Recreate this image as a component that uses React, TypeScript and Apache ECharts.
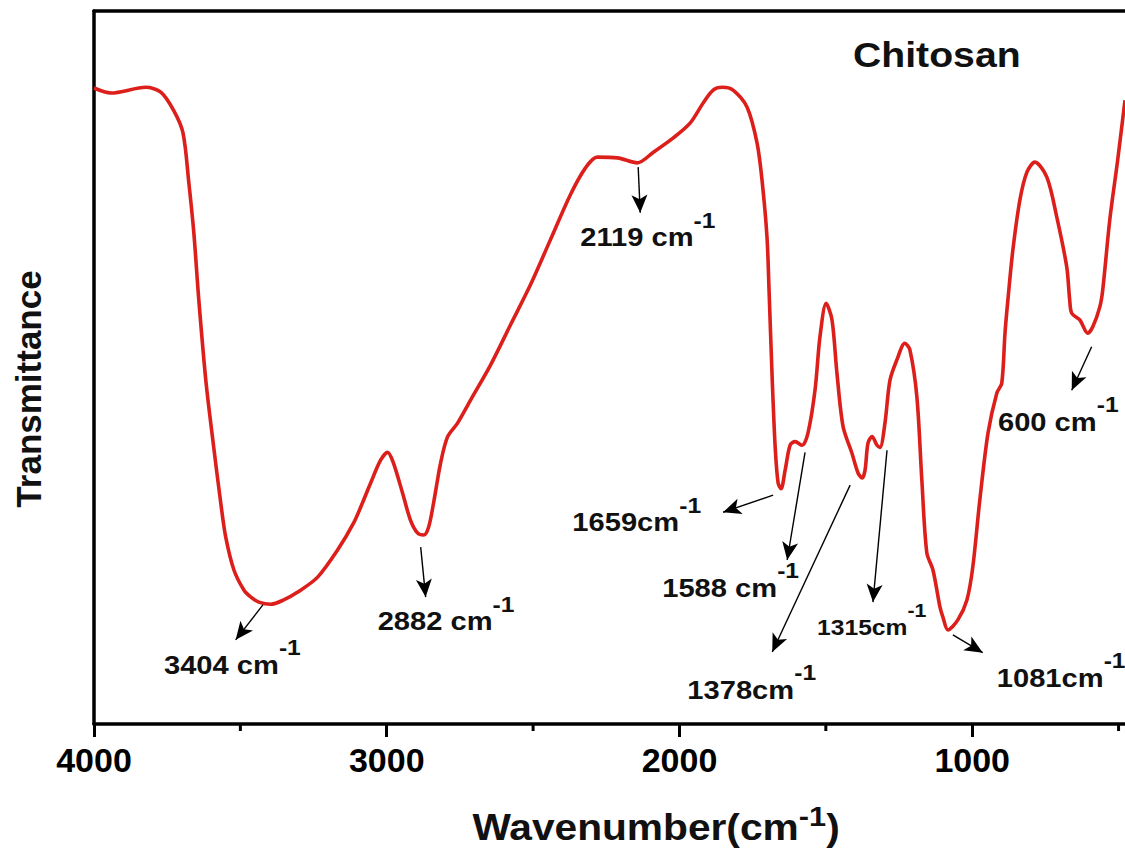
import React, { useEffect, useRef } from "react";
import * as echarts from "echarts";

// ---- data ----
const wavenumber = [
  4000, 3942, 3823, 3771, 3727, 3696, 3676, 3659, 3642, 3618, 3594, 3567, 3550, 3522, 3488, 3464, 3437, 3396, 3352, 3304,
  3236, 3168, 3113, 3082, 3055, 3021, 2997, 2977, 2946, 2919, 2895, 2874, 2857, 2840, 2816, 2792, 2758, 2714, 2646, 2577,
  2509, 2441, 2373, 2321, 2281, 2212, 2144, 2089, 2021, 1963, 1919, 1885, 1854, 1817, 1769, 1735, 1718, 1701, 1694, 1683,
  1673, 1663, 1653, 1639, 1622, 1605, 1581, 1561, 1537, 1520, 1499, 1479, 1462, 1441, 1411, 1390, 1376, 1366, 1356, 1342,
  1325, 1315, 1298, 1281, 1257, 1230, 1213, 1189, 1172, 1155, 1134, 1110, 1100, 1083, 1049, 1018, 998, 974, 946, 916,
  899, 888, 878, 861, 837, 813, 786, 745, 711, 677, 667, 660, 633, 605, 588, 564, 554, 530, 503, 478,
];
const transmittance = [
  89.2, 88.5, 89.3, 88.6, 86.0, 82.9, 75.9, 68.9, 59.5, 48.2, 39.8, 31.0, 26.2, 21.6, 18.8, 17.8, 17.1, 16.8, 17.4, 18.5,
  20.6, 24.4, 28.2, 31.1, 33.8, 37.0, 38.1, 36.6, 32.4, 28.6, 26.8, 26.5, 27.6, 31.0, 36.6, 40.3, 42.2, 45.4, 50.3, 56.0,
  61.6, 67.9, 74.2, 78.0, 79.5, 79.4, 78.7, 80.2, 82.2, 84.3, 87.1, 88.9, 89.3, 88.9, 86.5, 81.5, 76.3, 68.3, 60.9, 48.2,
  38.8, 33.8, 33.0, 35.6, 39.1, 39.6, 39.1, 40.8, 46.8, 54.3, 59.0, 56.7, 49.2, 41.7, 38.0, 35.2, 34.5, 35.6, 39.4, 40.3,
  39.1, 38.8, 42.2, 48.2, 51.1, 53.4, 52.5, 45.9, 34.2, 24.0, 21.6, 16.4, 15.0, 13.2, 14.6, 17.4, 22.0, 31.4, 40.8, 46.4,
  47.8, 54.8, 59.5, 66.5, 73.5, 77.4, 78.8, 76.7, 71.1, 64.1, 59.5, 57.6, 56.7, 54.8, 55.7, 58.5, 60.9, 70.7, 79.1, 87.5,
];
const majorTicks = [4000, 3000, 2000, 1000];
const minorTicks = [3500, 2500, 1500, 500];
const X_MIN = 478;
const X_MAX = 4000;

const peakLabels = ["3404 cm", "2882 cm", "2119 cm", "1659cm", "1588 cm", "1378cm", "1315cm", "1081cm", "600 cm"];
const arrowFrom = [
  [3423, 16.7], [2884, 24.8], [2141, 78.1], [1680, 32.1], [1571, 38.1], [1417, 33.5], [1291, 38.4], [1066, 12.5], [592, 52.9],
];
const arrowTo = [
  [3516, 11.8], [2867, 17.8], [2134, 71.7], [1851, 29.7], [1632, 23.0], [1683, 10.1], [1339, 17.1], [964, 10.0], [660, 46.8],
];
const labelAnchor = [
  [3761, 8.3], [3031, 14.4], [2339, 68.3], [2366, 28.3], [2059, 19.1], [1973, 4.8], [1530, 13.6], [916, 6.5], [912, 42.4],
];
const smallLabelIndex = 6;

const F = "'Liberation Sans', Arial, Helvetica, sans-serif";
const RED = "#dc1f1b";

export default function App() {
  const ref = useRef<HTMLDivElement>(null);

  useEffect(() => {
    if (!ref.current) return;
    const chart = echarts.init(ref.current, undefined, { renderer: "svg" });

    const axisLineStyle = { color: "#000", width: 3.5 };
    const option: any = {
      animation: false,
      backgroundColor: "#fff",
      grid: { left: 94, right: 0, top: 11, bottom: 128 },
      xAxis: [
        {
          type: "value",
          inverse: true,
          min: X_MIN,
          max: X_MAX,
          position: "bottom",
          axisLine: { show: true, onZero: false, lineStyle: axisLineStyle },
          axisTick: { show: true, inside: false, length: 13, customValues: majorTicks, lineStyle: { color: "#000", width: 3 } },
          axisLabel: {
            show: true,
            customValues: majorTicks,
            formatter: (v: number) => String(v),
            margin: 19,
            fontSize: 34,
            fontWeight: "bold",
            color: "#000",
            fontFamily: F,
          },
          splitLine: { show: false },
        },
        {
          type: "value",
          inverse: true,
          min: X_MIN,
          max: X_MAX,
          position: "top",
          axisLine: { show: true, onZero: false, lineStyle: axisLineStyle },
          axisTick: { show: false },
          axisLabel: { show: false },
          splitLine: { show: false },
        },
      ],
      yAxis: {
        type: "value",
        min: 0,
        max: 100,
        axisLine: { show: true, onZero: false, lineStyle: axisLineStyle },
        axisTick: { show: false },
        axisLabel: { show: false },
        splitLine: { show: false },
      },
      series: [
        {
          type: "line",
          xAxisIndex: 0,
          yAxisIndex: 0,
          data: wavenumber.map((w, i) => [w, transmittance[i]]),
          showSymbol: false,
          smooth: 0.3,
          lineStyle: { color: RED, width: 3.6 },
          itemStyle: { color: RED },
          markLine: {
            silent: true,
            symbol: ["none", "arrow"],
            symbolSize: [12, 18],
            lineStyle: { color: "#000", width: 1.4, type: "solid" },
            label: { show: false },
            emphasis: { disabled: true },
            data: arrowFrom.map((f, i) => [{ coord: f }, { coord: arrowTo[i] }]),
          },
        },
      ],
    };
    chart.setOption(option);

    const tok = (size: number, pad = 0) => ({
      fontSize: size,
      fontWeight: "bold",
      fontFamily: F,
      fill: "#111",
      padding: [0, 0, pad, 0],
    });
    const RICH = {
      a: tok(26),
      s: tok(22, 34),
      b: tok(22),
      t: tok(19, 34),
    };

    const annotations = peakLabels.map((label, i) => {
      const p = chart.convertToPixel({ seriesIndex: 0 }, labelAnchor[i]) as number[];
      const small = i === smallLabelIndex;
      return {
        type: "text",
        x: p[0],
        y: p[1],
        scaleX: 1.12,
        silent: true,
        style: {
          text: `{${small ? "b" : "a"}|${label}}{${small ? "t" : "s"}|-1}`,
          align: "left",
          textAlign: "left",
          verticalAlign: "middle",
          textVerticalAlign: "middle",
          rich: RICH,
        },
      };
    });

    // minor ticks placed through the x axis scale
    const axisY = (chart.convertToPixel({ seriesIndex: 0 }, [X_MAX, 0]) as number[])[1];
    const minorTickEls = minorTicks.map((v) => {
      const px = (chart.convertToPixel({ seriesIndex: 0 }, [v, 0]) as number[])[0];
      return {
        type: "line",
        silent: true,
        shape: { x1: px, y1: axisY, x2: px, y2: axisY + 7 },
        style: { stroke: "#000", lineWidth: 3 },
      };
    });

    chart.setOption({
      graphic: [
        ...minorTickEls,
        ...annotations,
        {
          type: "text",
          x: 853,
          y: 55,
          scaleX: 1.12,
          silent: true,
          style: {
            text: "Chitosan",
            fontSize: 35,
            fontWeight: "bold",
            fontFamily: F,
            fill: "#111",
            align: "left",
            textAlign: "left",
            verticalAlign: "middle",
            textVerticalAlign: "middle",
          },
        },
        {
          type: "text",
          x: 28,
          y: 389,
          rotation: Math.PI / 2,
          silent: true,
          style: {
            text: "Transmittance",
            fontSize: 35,
            fontWeight: "bold",
            fontFamily: F,
            fill: "#111",
            align: "center",
            textAlign: "center",
            verticalAlign: "middle",
            textVerticalAlign: "middle",
          },
        },
        {
          type: "text",
          x: 656,
          y: 827,
          scaleX: 1.1,
          silent: true,
          style: {
            text: "{m|Wavenumber(cm}{u|-1}{m|)}",
            align: "center",
            textAlign: "center",
            verticalAlign: "middle",
            textVerticalAlign: "middle",
            rich: {
              m: tok(37),
              u: tok(28, 22),
            },
          },
        },
      ],
    });

    return () => chart.dispose();
  }, []);

  return (
    <div
      ref={ref}
      style={{ position: "fixed", left: 0, top: 0, width: 1125, height: 852, background: "#fff" }}
    />
  );
}
